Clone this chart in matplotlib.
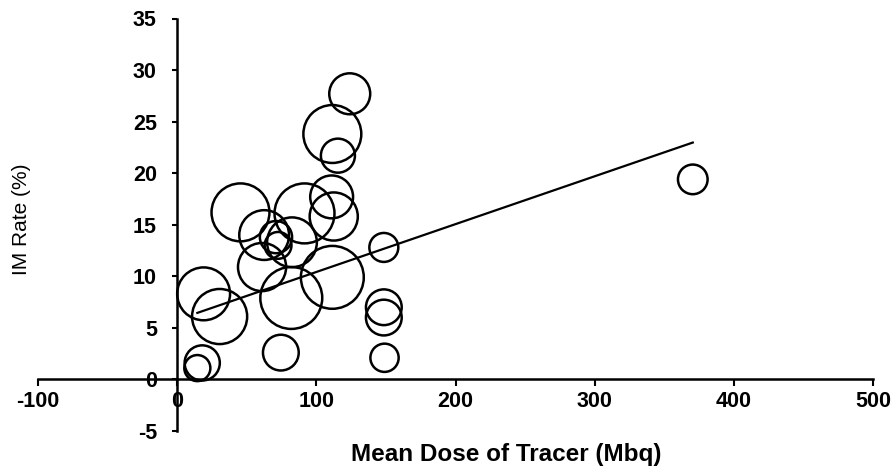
import numpy as np
import matplotlib
matplotlib.use('Agg')
import matplotlib.pyplot as plt

plt.rcParams['axes.unicode_minus'] = False

# Mean dose of tracer (Mbq), IM rate (%) and bubble size for each study
dose = [124, 111.5, 115.5, 111, 112.5, 91.5, 45.5, 62.5, 71, 72.5, 82.5, 61,
        111.5, 82, 19, 30.5, 148.5, 148.5, 148.5, 149, 74.5, 18, 14.5, 370.5]
im_rate = [27.7, 23.8, 21.7, 17.7, 15.8, 16.1, 16.2, 14.0, 13.8, 13.0, 13.3, 10.9,
           9.9, 7.9, 8.3, 6.1, 12.8, 7.0, 6.0, 2.1, 2.6, 1.6, 1.1, 19.4]
bubble = [42, 84, 29, 46, 58, 90, 84, 62, 26, 18, 62, 58,
          99, 96, 70, 76, 21, 32, 32, 20, 32, 31, 17, 22]

# linear trendline
trend_slope = 0.0464
trend_intercept = 5.78

x_ticks = [-100, 0, 100, 200, 300, 400, 500]
y_ticks = [-5, 0, 5, 10, 15, 20, 25, 30, 35]

fig = plt.figure(figsize=(8.94, 4.68), dpi=100)
ax = fig.add_axes([38 / 894, 1 - 431 / 468, 835 / 894, 412.5 / 468])

# bubble area proportional to size value
sizes = np.array(bubble) * 20.7
ax.scatter(dose, im_rate, s=sizes, facecolors='none', edgecolors='black',
           linewidths=1.8, zorder=3)

# trendline
xs = np.array([min(dose), max(dose)])
ax.plot(xs, trend_intercept + trend_slope * xs, color='black', lw=1.6, zorder=4)

ax.set_xlim(-100, 500)
ax.set_ylim(-5, 35)
ax.set_xticks(x_ticks)
ax.set_yticks(y_ticks)

ax.spines['left'].set_position(('data', 0))
ax.spines['bottom'].set_position(('data', 0))
ax.spines['top'].set_visible(False)
ax.spines['right'].set_visible(False)
for sp in ['left', 'bottom']:
    ax.spines[sp].set_linewidth(1.8)

ax.tick_params(axis='y', direction='out', length=3.6, width=1.5, pad=11)
ax.tick_params(axis='x', direction='out', length=5, width=1.5, pad=3)
for lab in ax.get_xticklabels() + ax.get_yticklabels():
    lab.set_fontfamily('Liberation Sans')
    lab.set_fontweight('bold')
    lab.set_fontsize(15.5)

# axis titles
fig.text(506 / 894, 1 - 461 / 468, 'Mean Dose of Tracer (Mbq)', ha='center', va='baseline',
         fontsize=17.5, fontweight='bold', family='Liberation Sans')
fig.text(21.5 / 894, 1 - 219.5 / 468, 'IM Rate (%)', ha='center', va='center',
         rotation=90, fontsize=15, family='Liberation Sans')

fig.savefig('out.png', dpi=100)
